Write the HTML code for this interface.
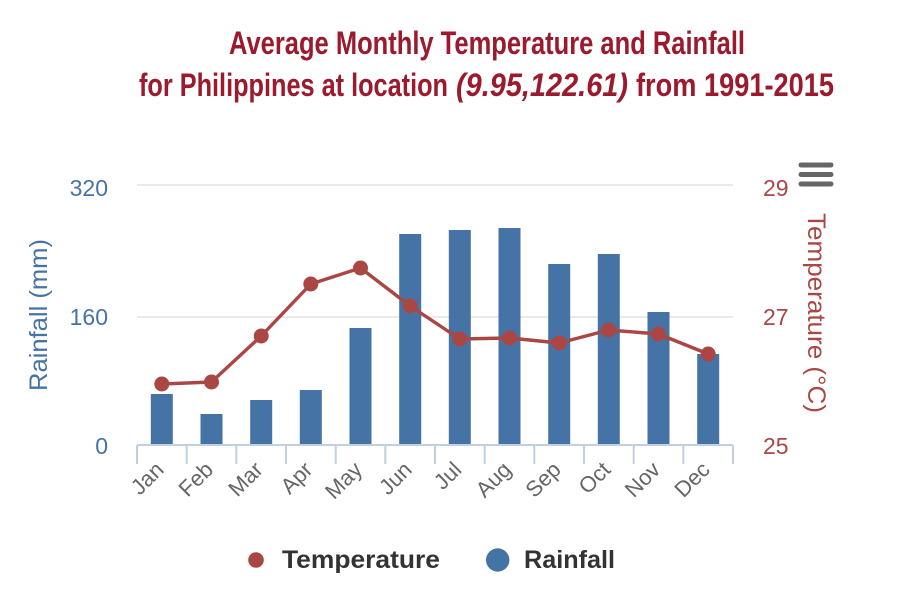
<!DOCTYPE html>
<html>
<head>
<meta charset="utf-8">
<style>
html,body{margin:0;padding:0;background:#fff;}
svg{display:block;}
text{font-family:"Liberation Sans",sans-serif;}
</style>
</head>
<body>
<svg width="910" height="600" viewBox="0 0 910 600" xmlns="http://www.w3.org/2000/svg">
<rect width="910" height="600" fill="#fff"/>
<!-- Title -->
<g fill="#9b1a2e" font-weight="bold" font-size="32" style="font-family:'Liberation Sans Narrow','Liberation Sans',sans-serif">
<text x="229" y="54" textLength="516" lengthAdjust="spacingAndGlyphs">Average Monthly Temperature and Rainfall</text>
<text x="139" y="96" textLength="309" lengthAdjust="spacingAndGlyphs">for Philippines at location</text>
<text x="456" y="96" textLength="172" lengthAdjust="spacingAndGlyphs" font-style="italic">(9.95,122.61)</text>
<text x="636" y="96" textLength="198" lengthAdjust="spacingAndGlyphs">from 1991-2015</text>
</g>
<!-- Grid -->
<line x1="137" y1="185" x2="733" y2="185" stroke="#e3e3e3" stroke-width="1.5"/>
<line x1="137" y1="317" x2="733" y2="317" stroke="#e3e3e3" stroke-width="1.5"/>
<!-- Bars -->
<g fill="#4673a5">
<rect x="150.8" y="394" width="22" height="51"/>
<rect x="200.5" y="414" width="22" height="31"/>
<rect x="250.2" y="400" width="22" height="45"/>
<rect x="299.8" y="390" width="22" height="55"/>
<rect x="349.5" y="328" width="22" height="117"/>
<rect x="399.2" y="234" width="22" height="211"/>
<rect x="448.8" y="230" width="22" height="215"/>
<rect x="498.5" y="228" width="22" height="217"/>
<rect x="548.2" y="264" width="22" height="181"/>
<rect x="597.8" y="254" width="22" height="191"/>
<rect x="647.5" y="312" width="22" height="133"/>
<rect x="697.2" y="354" width="22" height="91"/>
</g>
<!-- X axis -->
<line x1="137" y1="445" x2="733" y2="445" stroke="#c0d0e0" stroke-width="2"/>
<g stroke="#c0d0e0" stroke-width="2">
<line x1="137" y1="445" x2="137" y2="464"/>
<line x1="186.7" y1="445" x2="186.7" y2="464"/>
<line x1="236.3" y1="445" x2="236.3" y2="464"/>
<line x1="286" y1="445" x2="286" y2="464"/>
<line x1="335.7" y1="445" x2="335.7" y2="464"/>
<line x1="385.3" y1="445" x2="385.3" y2="464"/>
<line x1="435" y1="445" x2="435" y2="464"/>
<line x1="484.7" y1="445" x2="484.7" y2="464"/>
<line x1="534.3" y1="445" x2="534.3" y2="464"/>
<line x1="584" y1="445" x2="584" y2="464"/>
<line x1="633.7" y1="445" x2="633.7" y2="464"/>
<line x1="683.3" y1="445" x2="683.3" y2="464"/>
<line x1="733" y1="445" x2="733" y2="464"/>
</g>
<!-- Temperature line -->
<polyline fill="none" stroke="#aa4643" stroke-width="3.4" stroke-linejoin="round" points="161.8,384 211.5,382 261.2,336 310.8,284 360.5,268 410.2,306 459.8,339 509.5,338 559.2,343 608.8,330 658.5,334 708.2,354"/>
<g fill="#aa4643">
<circle cx="161.8" cy="384" r="7.5"/>
<circle cx="211.5" cy="382" r="7.5"/>
<circle cx="261.2" cy="336" r="7.5"/>
<circle cx="310.8" cy="284" r="7.5"/>
<circle cx="360.5" cy="268" r="7.5"/>
<circle cx="410.2" cy="306" r="7.5"/>
<circle cx="459.8" cy="339" r="7.5"/>
<circle cx="509.5" cy="338" r="7.5"/>
<circle cx="559.2" cy="343" r="7.5"/>
<circle cx="608.8" cy="330" r="7.5"/>
<circle cx="658.5" cy="334" r="7.5"/>
<circle cx="708.2" cy="354" r="7.5"/>
</g>
<!-- X labels -->
<g fill="#666" font-size="22" text-anchor="end">
<text transform="translate(165,471) rotate(-45)">Jan</text>
<text transform="translate(214.5,471) rotate(-45)">Feb</text>
<text transform="translate(264.2,471) rotate(-45)">Mar</text>
<text transform="translate(313.8,471) rotate(-45)">Apr</text>
<text transform="translate(363.5,471) rotate(-45)">May</text>
<text transform="translate(413.2,471) rotate(-45)">Jun</text>
<text transform="translate(462.8,471) rotate(-45)">Jul</text>
<text transform="translate(512.5,471) rotate(-45)">Aug</text>
<text transform="translate(562.2,471) rotate(-45)">Sep</text>
<text transform="translate(611.8,471) rotate(-45)">Oct</text>
<text transform="translate(661.5,471) rotate(-45)">Nov</text>
<text transform="translate(711.2,471) rotate(-45)">Dec</text>
</g>
<!-- Left axis -->
<g fill="#4673a5" font-size="23" text-anchor="end">
<text x="108" y="196">320</text>
<text x="108" y="325">160</text>
<text x="108" y="454">0</text>
</g>
<text transform="translate(47,315) rotate(-90)" fill="#4673a5" font-size="25" text-anchor="middle" textLength="152" lengthAdjust="spacingAndGlyphs">Rainfall (mm)</text>
<!-- Right axis -->
<g fill="#aa4643" font-size="23">
<text x="763" y="196">29</text>
<text x="763" y="325">27</text>
<text x="763" y="454">25</text>
</g>
<text transform="translate(808,313) rotate(90)" fill="#aa4643" font-size="25" text-anchor="middle" textLength="200" lengthAdjust="spacingAndGlyphs">Temperature (°C)</text>
<!-- Menu icon -->
<g stroke="#666" stroke-width="5" stroke-linecap="round">
<line x1="801" y1="165" x2="831" y2="165"/>
<line x1="801" y1="174.5" x2="831" y2="174.5"/>
<line x1="801" y1="184" x2="831" y2="184"/>
</g>
<!-- Legend -->
<circle cx="256" cy="560" r="7.8" fill="#aa4643"/>
<text x="282" y="568" fill="#333" font-size="25" font-weight="bold" textLength="158" lengthAdjust="spacingAndGlyphs">Temperature</text>
<circle cx="497.7" cy="560" r="11.7" fill="#4673a5"/>
<text x="524" y="568" fill="#333" font-size="25" font-weight="bold" textLength="91" lengthAdjust="spacingAndGlyphs">Rainfall</text>
</svg>
</body>
</html>
